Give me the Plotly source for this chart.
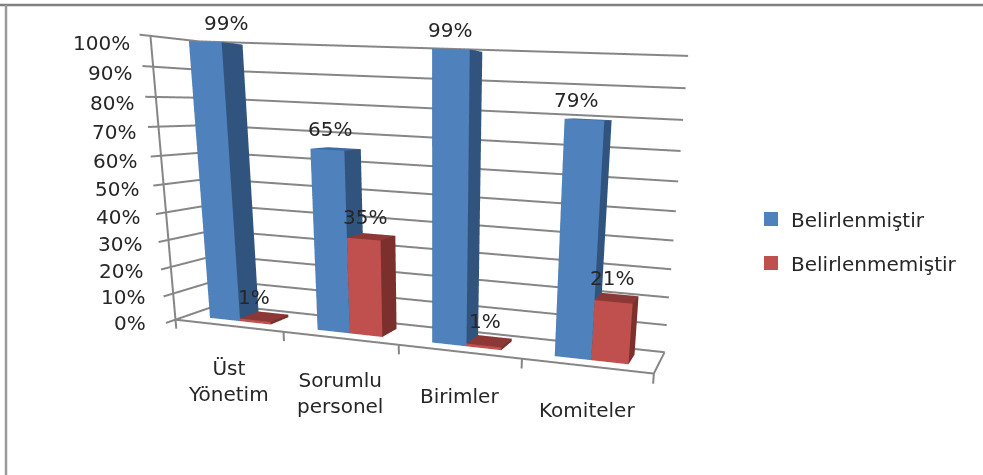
import plotly.graph_objects as go

categories = ["Üst<br>Yönetim", "Sorumlu<br>personel", "Birimler", "Komiteler"]
belirlenmistir = [99, 65, 99, 79]
belirlenmemistir = [1, 35, 1, 21]
series_names = ["Belirlenmiştir", "Belirlenmemiştir"]
z_ticks = list(range(0, 101, 10))
x_ticks = [0, 1, 2, 3, 4]

BLUE = ("#4F81BD", "#31547F", "#3E6AA2")
RED = ("#C0504D", "#7B302D", "#8C3836")
GRID = "#868686"
TEXT = dict(family="DejaVu Sans", size=20, color="#262626")
BAR_W = 1 / 3.5
GAP = 1.5 / 3.5 / 2
Y0, Y1 = 0.27, 0.73
XR = [-0.05, 4.05]
YR = [-0.3, 1.02]
ZR = [-6, 102]
BLUE_DX = [10, -6, -7, -12]
RED_DX = [-10, -6, -4, -5]

# The page is taller than the window (hidden overflow) so that the scene's fixed
# 45 degree lens gives the flatter perspective of the reference.
W, H = 983, 722


def bars(values, offset, colors):
    xs, ys, zs, ii, jj, kk, fc = [], [], [], [], [], [], []
    faces = [
        ((0, 1, 5, 4), 0),  # front
        ((1, 2, 6, 5), 1),  # right
        ((4, 5, 6, 7), 2),  # top
        ((0, 3, 7, 4), 1),  # left
        ((3, 2, 6, 7), 1),  # back
    ]
    for c, v in enumerate(values):
        x0 = c + GAP + offset * BAR_W
        x1 = x0 + BAR_W
        base = len(xs)
        for z in (0, v):
            xs += [x0, x1, x1, x0]
            ys += [Y0, Y0, Y1, Y1]
            zs += [z] * 4
        for (a, b, cc, d), col in faces:
            for tri in ((a, b, cc), (a, cc, d)):
                ii.append(base + tri[0]); jj.append(base + tri[1]); kk.append(base + tri[2])
                fc.append(colors[col])
    return go.Mesh3d(x=xs, y=ys, z=zs, i=ii, j=jj, k=kk, facecolor=fc, flatshading=True,
                     lighting=dict(ambient=1, diffuse=0, specular=0, fresnel=0),
                     showlegend=False, hoverinfo="skip", showscale=False)


def line3d(x, y, z, width=4):
    return go.Scatter3d(x=x, y=y, z=z, mode="lines", line=dict(color=GRID, width=width),
                        showlegend=False, hoverinfo="skip")


fig = go.Figure()
fig.add_trace(bars(belirlenmistir, 0, BLUE))
fig.add_trace(bars(belirlenmemistir, 1, RED))
for t in z_ticks:
    fig.add_trace(line3d([0, 0, 0, 4], [-0.2, 0, 1, 1], [t, t, t, t]))
fig.add_trace(line3d([4, 4, 0, 0], [1, 0, 0, 0], [0, 0, 0, 100]))
for t in x_ticks:
    fig.add_trace(line3d([t, t], [0, 0], [0, -3.5]))
for name, col in zip(series_names, (BLUE[0], RED[0])):
    fig.add_trace(go.Scatter3d(x=[None], y=[None], z=[None], mode="markers", name=name, legendgroup=name,
                               marker=dict(symbol="square", size=14, color=col), showlegend=True))

annos = []
for t in z_ticks:
    annos.append(dict(x=0, y=0, z=t, text=f"{t}%", showarrow=False, xanchor="right",
                      xshift=-27 + 0.09 * t, yshift=-3 - 0.04 * t, font=TEXT))
for c, name in enumerate(categories):
    annos.append(dict(x=c + 0.5, y=0, z=0, text=name, showarrow=False,
                      yshift=-55 if "<br>" in name else -44, font=TEXT))
for c, v in enumerate(belirlenmistir):
    annos.append(dict(x=c + GAP + BAR_W * .5, y=.5, z=v, text=f"{v}%", showarrow=False,
                      xshift=BLUE_DX[c], yshift=20, font=TEXT))
for c, v in enumerate(belirlenmemistir):
    annos.append(dict(x=c + GAP + BAR_W * 1.5, y=.5, z=v, text=f"{v}%", showarrow=False,
                      xshift=RED_DX[c], yshift=20, font=TEXT))

axis = dict(visible=False)
fig.update_layout(
    width=W, height=H, margin=dict(l=0, r=0, t=0, b=0), paper_bgcolor="white",
    scene=dict(
        domain=dict(x=[0.13, 1.0], y=[0, 1]),
        xaxis=dict(axis, range=XR),
        yaxis=dict(axis, range=YR),
        zaxis=dict(axis, range=ZR),
        aspectmode="manual", aspectratio=dict(x=1.6112, y=0.3089, z=0.9402),
        camera=dict(eye=dict(x=1.0727, y=-2.4609, z=0.3235), center=dict(x=0.5221, y=-0.1940, z=-0.3792),
                    up=dict(x=-0.0096, y=-0.1245, z=1), projection=dict(type="perspective")),
        annotations=annos, dragmode="orbit",
    ),
    legend=dict(x=751 / W, y=1 - 241 / H, xanchor="left", yanchor="middle", font=TEXT,
                tracegroupgap=15, bgcolor="rgba(0,0,0,0)"),
    shapes=[
        dict(type="line", xref="paper", yref="paper", x0=0, x1=1, y0=1 - 5 / H, y1=1 - 5 / H,
             line=dict(color="#808080", width=2.5)),
        dict(type="line", xref="paper", yref="paper", x0=6 / W, x1=6 / W, y0=0, y1=1 - 5 / H,
             line=dict(color="#9a9a9a", width=2.5)),
    ],
)
fig.write_html("out.html", config=dict(displayModeBar=False),
               post_script="document.body.style.margin='0';document.body.style.overflow='hidden';")
